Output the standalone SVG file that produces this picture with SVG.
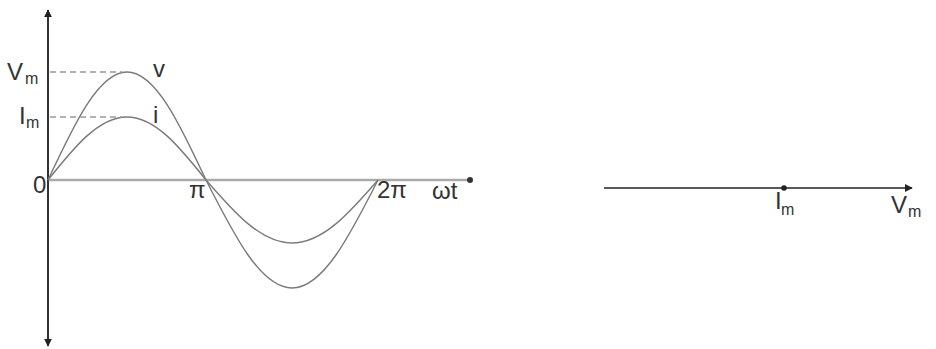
<svg xmlns="http://www.w3.org/2000/svg" width="936" height="349" viewBox="0 0 936 349">
<style>
.t{font-family:"Liberation Sans",Arial,sans-serif;fill:#333;}
.big{font-size:24px;}
.sub{font-size:16px;}
.wave{fill:none;stroke:#7a7a7a;stroke-width:1.4;}
.dash{stroke:#999;stroke-width:1.3;stroke-dasharray:6 4;fill:none;}
</style>
<defs>
<marker id="ah" viewBox="0 0 10 10" refX="9" refY="5" markerWidth="4" markerHeight="4" orient="auto-start-reverse" markerUnits="strokeWidth">
<path d="M0,0 L10,5 L0,10 z" fill="#222"/>
</marker>
<marker id="ah2" viewBox="0 0 10 10" refX="9" refY="5" markerWidth="5" markerHeight="5" orient="auto" markerUnits="strokeWidth">
<path d="M0,0 L10,5 L0,10 z" fill="#222"/>
</marker>
</defs>
<rect width="936" height="349" fill="#fff"/>
<g id="axes">
<line x1="48" y1="180" x2="470" y2="180" stroke="#aaa" stroke-width="2.5"/>
<circle cx="470" cy="180" r="3" fill="#333"/>
<line x1="48" y1="10" x2="48" y2="346" stroke="#333" stroke-width="2" marker-start="url(#ah)" marker-end="url(#ah)"/>
</g>
<g id="waves">
<path class="wave" d="M48,180 C73.8,124.7 98.4,72 127,72 C155.6,72 180.2,124.7 206,180 C234.05,235.3 260.9,288 292,288 C323.1,288 349.95,235.3 378,180"/>
<path class="wave" d="M48,180 C73.8,147.7 98.4,117 127,117 C155.6,117 180.2,147.7 206,180 C234.05,212.3 260.9,243 292,243 C323.1,243 349.95,212.3 378,180"/>
<line class="dash" x1="50" y1="72" x2="122" y2="72"/>
<line class="dash" x1="50" y1="117" x2="122" y2="117"/>
</g>
<g id="labels">
<text class="t big" x="7" y="80">V</text><text class="t sub" x="25" y="84">m</text>
<text class="t big" x="19" y="124">I</text><text class="t sub" x="26" y="128">m</text>
<text class="t big" x="33" y="193">0</text>
<text class="t big" x="153" y="77">v</text>
<text class="t big" x="153" y="123">i</text>
<text class="t big" x="189" y="198">π</text>
<text class="t big" x="377" y="198">2π</text>
<text class="t big" x="432" y="199">ωt</text>
</g>
<g id="phasor">
<line x1="604" y1="188" x2="912" y2="188" stroke="#222" stroke-width="1.6" marker-end="url(#ah2)"/>
<circle cx="784" cy="188" r="2.8" fill="#222"/>
<text class="t big" x="775" y="209">I</text><text class="t sub" x="781" y="215">m</text>
<text class="t big" x="891" y="213">V</text><text class="t sub" x="908" y="217">m</text>
</g>
</svg>
